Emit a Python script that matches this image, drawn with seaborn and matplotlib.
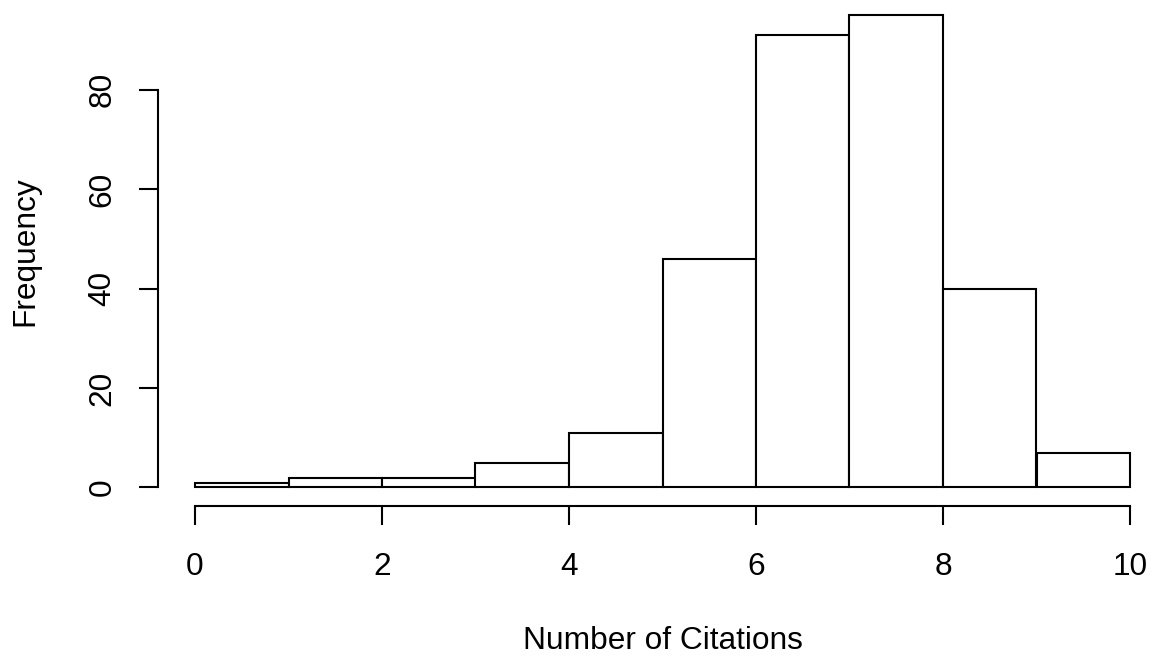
import matplotlib
matplotlib.use("Agg")
import matplotlib.pyplot as plt
import seaborn as sns
import numpy as np

# Data
bin_edges = [0, 1, 2, 3, 4, 5, 6, 7, 8, 9, 10]
counts = [1, 2, 2, 5, 11, 46, 91, 95, 40, 7]
x_ticks = [0, 2, 4, 6, 8, 10]
y_ticks = [0, 20, 40, 60, 80]
x_label = "Number of Citations"
y_label = "Frequency"

sns.set_theme(style="white")
plt.rcParams['font.family'] = ['Liberation Sans', 'DejaVu Sans']

W, H = 1154, 658
fig = plt.figure(figsize=(W / 100, H / 100), dpi=100)
left_px, right_px = 157.6, 1167.4
bottom_px, top_px = 506.4, -4.0
ax = fig.add_axes([left_px / W, (H - bottom_px) / H,
                   (right_px - left_px) / W, (bottom_px - top_px) / H])

centers = [(bin_edges[i] + bin_edges[i + 1]) / 2 for i in range(len(counts))]
sns.histplot(x=centers, weights=counts, bins=bin_edges, ax=ax,
             color="white", edgecolor="black", linewidth=1.5, alpha=1.0)

ax.set_xlim(-0.4, 10.4)
ax.set_ylim(-3.8, 98.8)
ax.set_xticks(x_ticks)
ax.set_yticks(y_ticks)
ax.set_xticklabels([str(t) for t in x_ticks])
ax.set_yticklabels([str(t) for t in y_ticks])

for s in ["top", "right"]:
    ax.spines[s].set_visible(False)
ax.spines["left"].set_bounds(0, 80)
ax.spines["bottom"].set_bounds(0, 10)
for s in ["left", "bottom"]:
    ax.spines[s].set_linewidth(1.5)
    ax.spines[s].set_color("black")

fs = 22.8
ax.tick_params(axis="both", direction="out", length=13.7, width=1.5,
               colors="black", labelsize=fs, left=True, bottom=True)
ax.tick_params(axis="x", pad=19)
ax.tick_params(axis="y", pad=15, labelrotation=90)
for lab in ax.get_yticklabels():
    lab.set_va("center")
    lab.set_ha("right")

ax.set_xlabel(x_label, fontsize=fs, color="black")
ax.set_ylabel(y_label, fontsize=fs, color="black")
ax.xaxis.label.set_va("center")
ax.yaxis.label.set_va("center")
ax.xaxis.set_label_coords(0.5, (H - 641 - (H - bottom_px)) / (bottom_px - top_px))
ax.yaxis.set_label_coords((25 - left_px) / (right_px - left_px), 0.5)
ax.grid(False)

fig.savefig("out.png", dpi=100, facecolor="white")
